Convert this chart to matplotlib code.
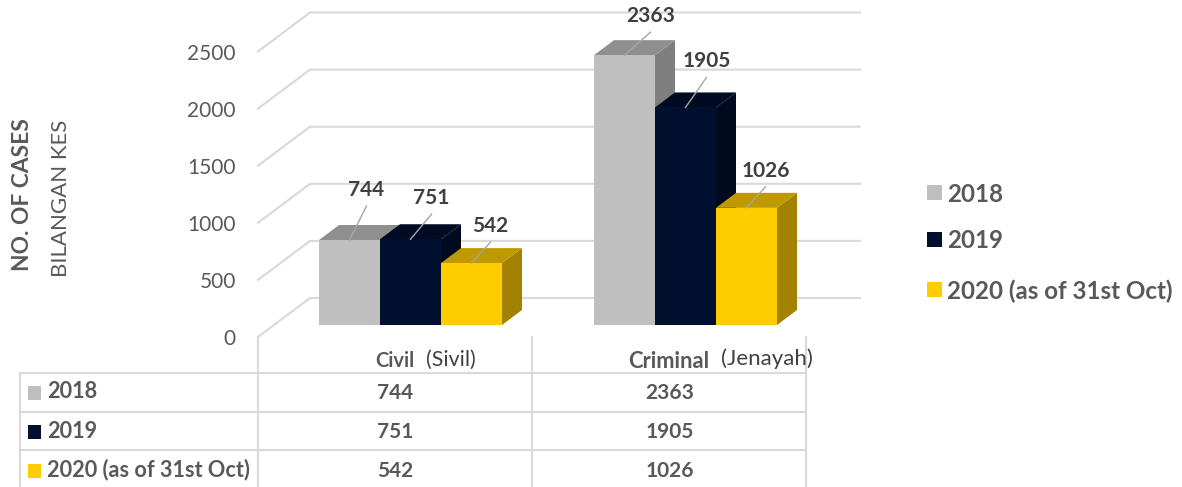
import matplotlib
matplotlib.use('Agg')
import matplotlib.pyplot as plt
from matplotlib.patches import Rectangle

plt.rcParams['font.family'] = ['Lato', 'DejaVu Sans']

# data
categories = ['Civil', 'Criminal']
categories_ms = ['(Sivil)', '(Jenayah)']
series_names = ['2018', '2019', '2020 (as of 31st Oct)']
values_2018 = [744, 2363]
values_2019 = [751, 1905]
values_2020 = [542, 1026]
y_ticks = [0, 500, 1000, 1500, 2000, 2500]

all_values = [values_2018, values_2019, values_2020]

# colours for front, top, side of each series
front_colors = ['#BFBFBF', '#00102E', '#FFCC00']
top_colors = ['#8F8F8F', '#000A22', '#BF9900']
side_colors = ['#7F7F7F', '#000A1E', '#A38200']
grid_color = '#D9D9D9'
text_color = '#595959'
label_color = '#404040'

W, H = 1182, 487
PX_PER_UNIT = 0.1142   # height of one case in pixels
BASE_Y = 325           # pixel row of value 0 on the bars' front face
CAT_X = 410.5          # pixel column of first group centre
CAT_STEP = 275.0       # pixels between groups
BAR_W = 61 / CAT_STEP

fig = plt.figure(figsize=(W / 100, H / 100), dpi=100)

# main axes fills the figure, x in category units, y in cases
ax = fig.add_axes([0, 0, 1, 1])
ax.set_xlim(-CAT_X / CAT_STEP, (W - CAT_X) / CAT_STEP)
ax.set_ylim((BASE_Y - H) / PX_PER_UNIT, BASE_Y / PX_PER_UNIT)
ax.axis('off')

# overlay in pixel coordinates for the layout of table and legend
pix = fig.add_axes([0, 0, 1, 1])
pix.set_xlim(0, W)
pix.set_ylim(H, 0)
pix.axis('off')
pix.patch.set_alpha(0)


def dx(px):
    return px / CAT_STEP


def dy(px):
    return px / PX_PER_UNIT


# walls: gridlines run from the front edge back to the wall, then across
for t in y_ticks:
    x0 = -CAT_X / CAT_STEP
    xs = [x0 + dx(258), x0 + dx(310), x0 + dx(860)]
    ys = [t - dy(12), t + dy(27), t + dy(27)]
    ax.plot(xs, ys, color=grid_color, lw=1.5, solid_joinstyle='miter', zorder=1)
    ax.text(x0 + dx(236), t - dy(14), str(t), ha='right', va='center',
            fontsize=15, color=text_color, zorder=5)

# bars
DEPTH_X = dx(20)
DEPTH_Y = dy(15)
for s, vals in enumerate(all_values):
    for c, v in enumerate(vals):
        left = c + (s - 1.5) * BAR_W
        right = left + BAR_W
        ax.fill([right, right + DEPTH_X, right + DEPTH_X, right],
                [0, DEPTH_Y, v + DEPTH_Y, v], color=side_colors[s], lw=0, zorder=2 + s)
        ax.fill([left, left + DEPTH_X, right + DEPTH_X, right],
                [v, v + DEPTH_Y, v + DEPTH_Y, v], color=top_colors[s], lw=0, zorder=2 + s)
        ax.bar(left, v, width=BAR_W, align='edge', color=front_colors[s], lw=0, zorder=2 + s)

# value labels with leader lines, offsets in pixels from the centre of the bar top
leader_offsets = [[(17, 34), (26, 23)],
                  [(21, 25), (21, 30)],
                  [(19, 21), (19, 21)]]
for s, vals in enumerate(all_values):
    for c, v in enumerate(vals):
        cx = c + (s - 1) * BAR_W
        ox, oy = leader_offsets[s][c]
        ax.plot([cx, cx + dx(ox)], [v, v + dy(oy)], color='#A6A6A6', lw=1, zorder=6)
        ax.text(cx + dx(ox), v + dy(oy + 16), str(v), ha='center', va='center',
                fontsize=15, fontweight='bold', color=label_color, zorder=7)

# axis titles
pix.text(23, 195, 'NO. OF CASES', rotation=90, ha='center', va='center',
         fontsize=16.4, fontweight='bold', color=text_color)
pix.text(61, 198, 'BILANGAN KES', rotation=90, ha='center', va='center',
         fontsize=16, color=text_color)

# legend on the right
legend_y = [193, 240, 290]
for s, name in enumerate(series_names):
    pix.add_patch(Rectangle((927, legend_y[s] - 8), 15, 15, color=front_colors[s], lw=0))
    pix.text(947, legend_y[s] + 1, name, ha='left', va='center', fontsize=17.4,
             fontweight='bold', color=text_color)

# data table under the chart
table_x = [20, 258, 532, 806]
table_y = [373, 412, 450]
for x in table_x[1:]:
    pix.plot([x, x], [337, H], color=grid_color, lw=1.5)
pix.plot([table_x[0], table_x[0]], [table_y[0], H], color=grid_color, lw=1.5)
for y in table_y:
    pix.plot([table_x[0], table_x[-1]], [y, y], color=grid_color, lw=1.5)

cat_label_x = [(375, 426), (628, 721)]
cat_label_y = [(361, 360), (362, 359)]
cat_sizes = [(14.5, 15.4), (15.8, 16)]
for c in range(len(categories)):
    pix.text(cat_label_x[c][0], cat_label_y[c][0], categories[c], ha='left', va='center',
             fontsize=cat_sizes[c][0], fontweight='bold', color=text_color)
    pix.text(cat_label_x[c][1], cat_label_y[c][1], categories_ms[c], ha='left', va='center',
             fontsize=cat_sizes[c][1], color='#404040')

row_y = [392, 431, 470]
col_x = [395, 670]
for s, name in enumerate(series_names):
    pix.add_patch(Rectangle((28, row_y[s] - 6), 13, 14, color=front_colors[s], lw=0))
    pix.text(47, row_y[s], name, ha='left', va='center', fontsize=15.6,
             fontweight='bold', color=text_color)
    for c in range(len(categories)):
        pix.text(col_x[c], row_y[s] + 1, str(all_values[s][c]), ha='center', va='center',
                 fontsize=15, fontweight='bold', color=text_color)

fig.savefig('out.png', dpi=100)
